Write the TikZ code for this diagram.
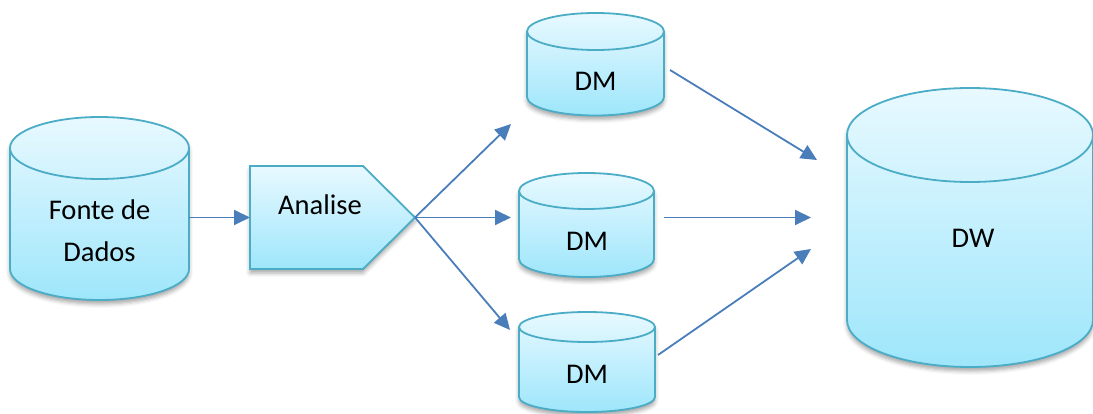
\documentclass[tikz,border=0pt]{standalone}
\usepackage{fontspec}
\setmainfont{Carlito}
\usetikzlibrary{arrows.meta,shadows.blur}

\definecolor{rim}{RGB}{75,172,198}
\definecolor{filltop}{RGB}{232,249,255}
\definecolor{fillbot}{RGB}{158,230,251}
\definecolor{flow}{RGB}{74,126,187}

\tikzset{
  solid shape/.style={draw=rim, line width=1.8pt, top color=filltop, bottom color=fillbot,
    blur shadow={shadow xshift=0pt, shadow yshift=-4pt, shadow blur radius=4pt, shadow opacity=35}},
  rimline/.style={draw=rim, line width=1.8pt},
  area/.style={inner sep=0pt, outer sep=0pt},
  lbl/.style={font=\fontsize{28.5}{42}\selectfont, align=center, inner sep=0pt},
  arr/.style={draw=flow, line width=1.8pt, -{Triangle[length=16pt,width=15pt]}},
}

% database cylinder: #1 name, #2 centre x, #3 top ellipse y, #4 bottom ellipse y, #5 x radius, #6 y radius
\newcommand\dbcyl[6]{%
  \path[solid shape] ({#2-#5},{-#3}) -- ({#2-#5},{-#4})
    arc[start angle=180, end angle=360, x radius=#5, y radius=#6]
    -- ({#2+#5},{-#3})
    arc[start angle=0, end angle=180, x radius=#5, y radius=#6] -- cycle;
  \draw[rimline] ({#2-#5},{-#3}) arc[start angle=180, end angle=360, x radius=#5, y radius=#6];
  \node[area, minimum width={2*#5pt}, minimum height={(#4-#3+2*#6)*1pt}]
    (#1) at (#2,{-(#3+#4)/2}) {};
}

\begin{document}
\begin{tikzpicture}[x=1pt,y=1pt]
\useasboundingbox (0,0) rectangle (1093,-414);

% source database
\dbcyl{fonte}{99.5}{148}{269}{89.5}{31}
\node[lbl] (fonteT) at (99.5,-231) {Fonte de\\Dados};

% analysis step (pentagon arrow)
\path[solid shape] (250,-166) -- (363,-166) -- (415,-217.5) -- (363,-269) -- (250,-269) -- cycle;
\node[area, minimum width=165pt, minimum height=103pt] (analise) at (332.5,-217.5) {};
\node[lbl] (analiseT) at (320,-205) {Analise};

% data marts
\dbcyl{dmA}{595.5}{31.5}{97}{68.5}{18.5}
\node[lbl] (dmAT) at (595.5,-81) {DM};
\dbcyl{dmB}{586.5}{191}{259}{67.5}{18}
\node[lbl] (dmBT) at (587,-241) {DM};
\dbcyl{dmC}{587}{327}{397}{68}{15}
\node[lbl] (dmCT) at (587,-374) {DM};

% data warehouse
\dbcyl{dw}{970}{135}{320}{123}{47}
\node[lbl] (dwT) at (973,-238) {DW};

% free arrow ends
\coordinate (toA) at (511,-124);
\coordinate (toB) at (511,-217.5);
\coordinate (toC) at (510,-330);
\coordinate (fromA) at (670,-70);
\coordinate (fromB) at (664,-217.5);
\coordinate (fromC) at (658,-355);
\coordinate (inA) at (817,-160);
\coordinate (inB) at (811,-217.5);
\coordinate (inC) at (811,-249);

% flows
\draw[arr] (fonte.east |- analise.west) -- (analise.west);
\draw[arr] (analise.east) -- (toA);
\draw[arr] (analise.east) -- (toB);
\draw[arr] (analise.east) -- (toC);
\draw[arr] (fromA) -- (inA);
\draw[arr] (fromB) -- (inB);
\draw[arr] (fromC) -- (inC);
\end{tikzpicture}
\end{document}
